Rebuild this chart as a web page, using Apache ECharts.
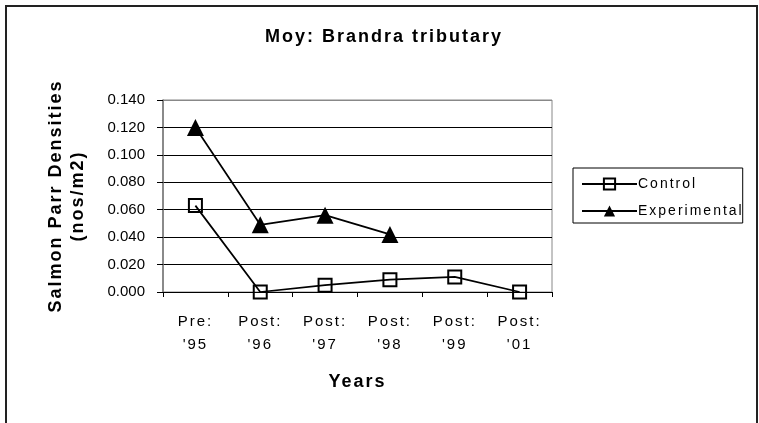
<!DOCTYPE html>
<html><head><meta charset="utf-8">
<script src="https://cdn.jsdelivr.net/npm/echarts@6/dist/echarts.min.js"></script>
<style>html,body{margin:0;padding:0;background:#fff}#c{width:759px;height:423px}</style>
</head><body><div id="c"></div>
<script>
const categories = ["Pre:\n'95", "Post:\n'96", "Post:\n'97", "Post:\n'98", "Post:\n'99", "Post:\n'01"];
const controlValues = [0.063, 0.000, 0.005, 0.009, 0.011, 0.000];
const experimentalValues = [0.120, 0.049, 0.056, 0.042, null, null];
const yMin = 0, yMax = 0.14, yStep = 0.02;

// Wide letter spacing like the original rendering (numeric tick labels excluded)
(function () {
  const proto = CanvasRenderingContext2D.prototype;
  const orig = proto.fillText;
  proto.fillText = function (t, x, y, m) {
    if ('letterSpacing' in this) {
      this.letterSpacing = /^[\d.]+$/.test(String(t)) ? '0px' : '2px';
    }
    return m === undefined ? orig.call(this, t, x, y) : orig.call(this, t, x, y, m);
  };
})();

const chart = echarts.init(document.getElementById('c'), null, {renderer: 'canvas'});
const F = 'Liberation Sans, Arial, sans-serif';
chart.setOption({
  animation: false,
  backgroundColor: '#fff',
  graphic: [{
    type: 'rect', shape: {x: 6, y: 6, width: 751, height: 430},
    style: {fill: 'none', stroke: '#222', lineWidth: 2}, silent: true, z: -1
  }],
  title: {
    text: 'Moy: Brandra tributary', left: 379, top: 23, textAlign: 'center',
    textStyle: {fontFamily: F, fontSize: 18, fontWeight: 'bold', color: '#000'}
  },
  legend: {
    orient: 'vertical', left: 573, top: 168,
    padding: [9, 23, 5, 8], itemGap: 13,
    borderColor: '#000', borderWidth: 1,
    itemWidth: 55, itemHeight: 14,
    textStyle: {fontFamily: F, fontSize: 14, color: '#000', lineHeight: 14, padding: [0, 0, 0, -4]},
    data: ['Control', 'Experimental']
  },
  grid: {left: 163, right: 207, top: 100, bottom: 131, containLabel: false,
    show: true, borderColor: '#888', borderWidth: 1},
  xAxis: {
    type: 'category', data: categories, boundaryGap: true,
    name: 'Years', nameLocation: 'middle', nameGap: 81,
    nameTextStyle: {fontFamily: F, fontSize: 18, fontWeight: 'bold', color: '#000'},
    axisLine: {lineStyle: {color: '#000', width: 1}},
    axisTick: {show: true, length: 5, lineStyle: {color: '#000'}},
    axisLabel: {fontFamily: F, fontSize: 15, color: '#000', margin: 18, lineHeight: 23}
  },
  yAxis: {
    type: 'value', min: yMin, max: yMax, interval: yStep,
    name: 'Salmon Parr Densities\n(nos/m2)', nameLocation: 'middle', nameGap: 74,
    nameTextStyle: {fontFamily: F, fontSize: 18, fontWeight: 'bold', color: '#000', lineHeight: 22},
    axisLine: {show: true, lineStyle: {color: '#777', width: 1.5}},
    axisTick: {show: true, length: 6, lineStyle: {color: '#000'}},
    axisLabel: {fontFamily: F, fontSize: 15, color: '#000', margin: 18,
      formatter: v => v.toFixed(3)},
    splitLine: {show: true, lineStyle: {color: ['#000', '#000', '#000', '#000', '#000', '#000', '#000', '#888'], width: 1}}
  },
  series: [
    {name: 'Control', type: 'line', data: controlValues,
     symbol: 'rect', symbolSize: 13,
     itemStyle: {color: 'rgba(0,0,0,0)', borderColor: '#000', borderWidth: 2},
     lineStyle: {color: '#000', width: 1.75}},
    {name: 'Experimental', type: 'line', data: experimentalValues, connectNulls: false,
     symbol: 'triangle', symbolSize: 17,
     itemStyle: {color: '#000', borderColor: '#000', borderWidth: 0},
     lineStyle: {color: '#000', width: 1.75}}
  ]
});
</script></body></html>
